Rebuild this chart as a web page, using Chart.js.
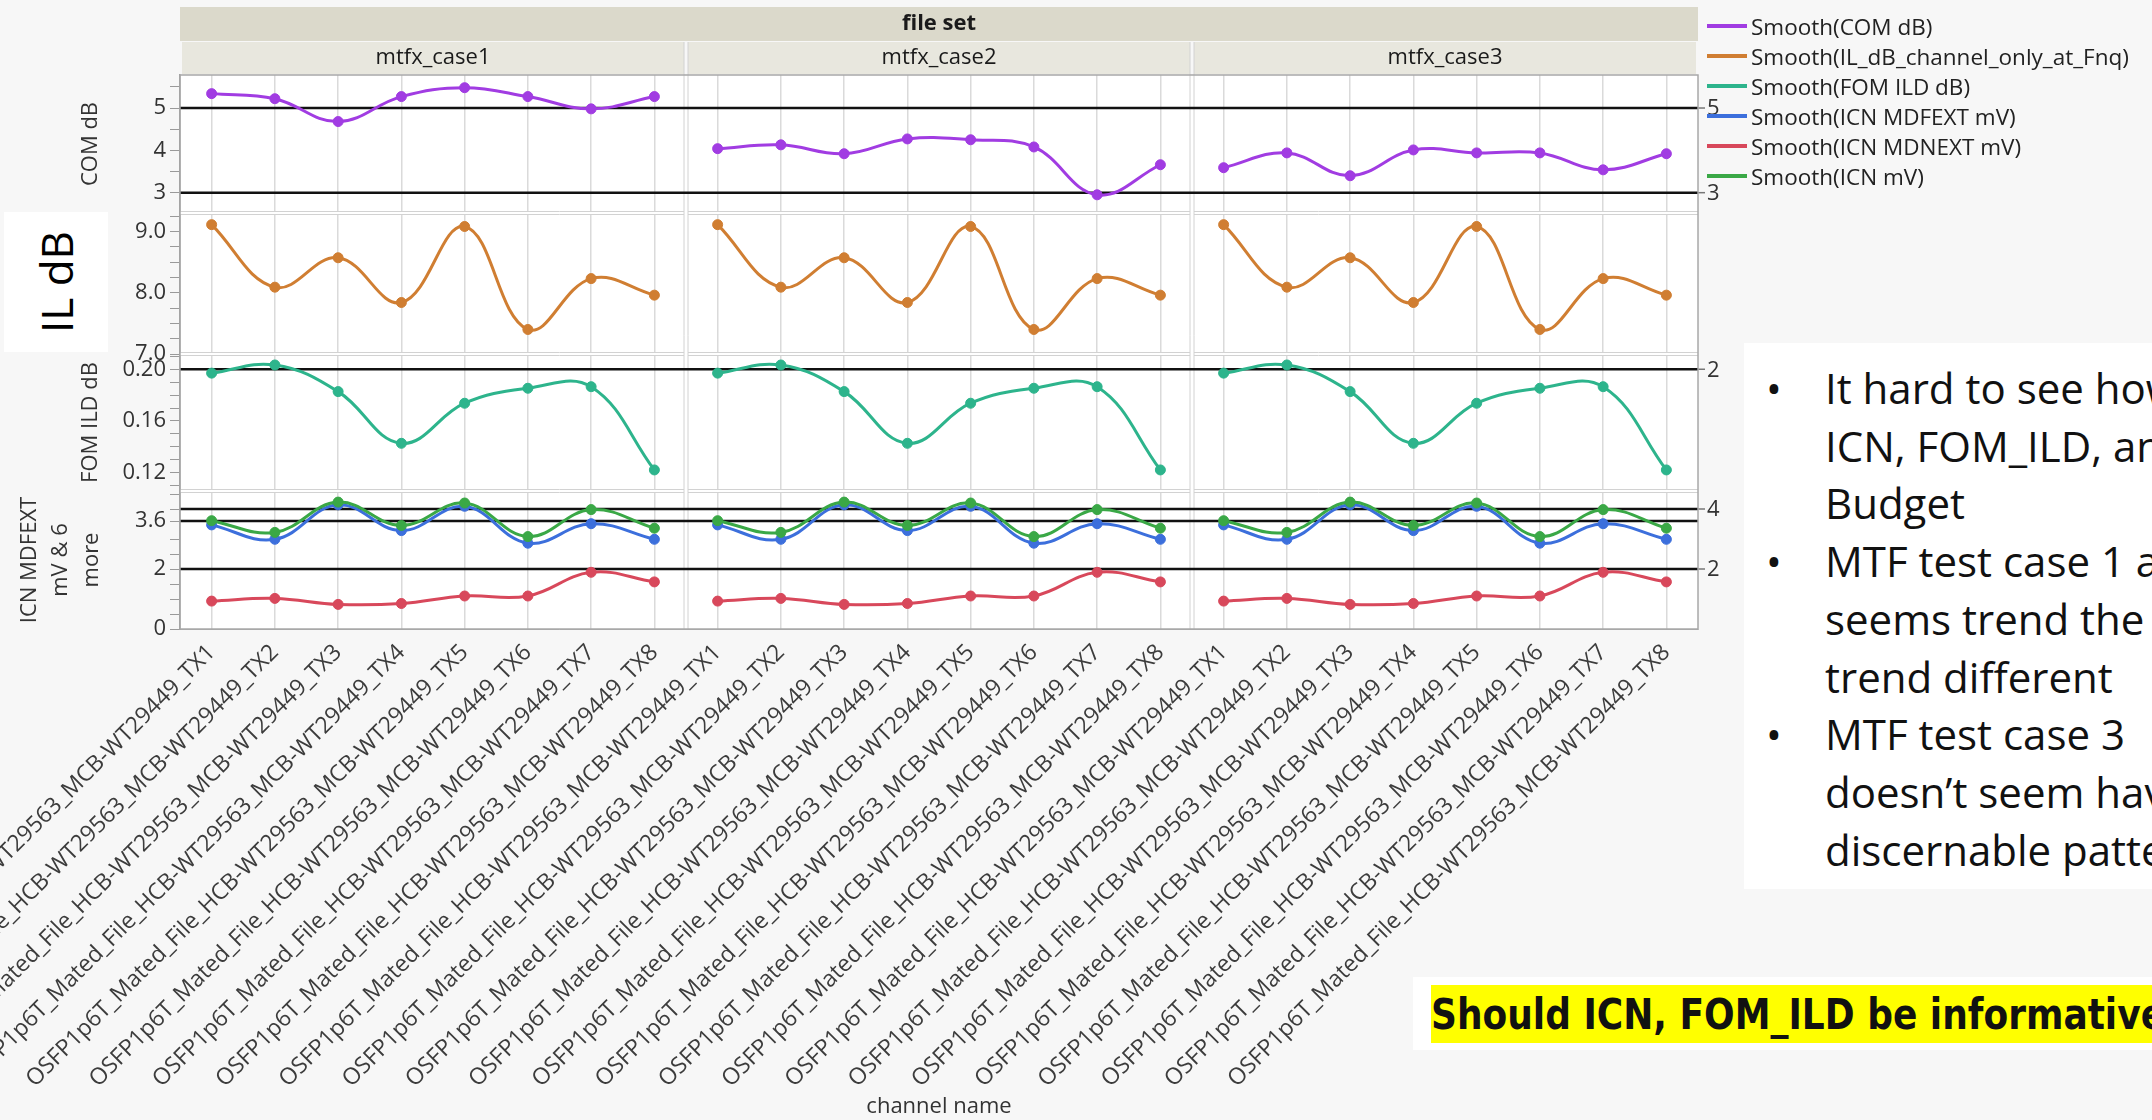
<!DOCTYPE html>
<html>
<head>
<meta charset="utf-8">
<script src="https://cdn.jsdelivr.net/npm/chart.js@4.4.1/dist/chart.umd.min.js"></script>
<style>
  html, body { margin: 0; padding: 0; }
  body {
    width: 2152px; height: 1120px; overflow: hidden; position: relative;
    background: #f7f7f7; font-family: "Open Sans", "Noto Sans", sans-serif;
  }
  #wrap { position: absolute; left: 0; top: 0; width: 1740px; height: 1120px; }
  #legend { position: absolute; left: 1707px; top: 11px; }
  .leg-row { height: 30px; display: flex; align-items: center; font-size: 22.5px; color: #222; white-space: nowrap; }
  .leg-swatch { width: 40px; height: 4px; margin-right: 4px; }
  #ilbox { position: absolute; left: 4px; top: 212px; width: 104px; height: 140px; background: #fff; }
  #ilbox span {
    position: absolute; left: 50%; top: 50%; white-space: nowrap;
    transform: translate(-50%, -50%) rotate(-90deg); font-size: 44px; color: #000;
  }
  #notes {
    position: absolute; left: 1744px; top: 343px; width: 408px; height: 546px;
    background: #fff; overflow: hidden; padding-top: 16px; box-sizing: border-box;
    font-size: 42px; line-height: 57.7px; color: #111;
  }
  #notes div { position: relative; padding-left: 81px; white-space: nowrap; }
  #notes div.b::before { content: "\2022"; position: absolute; left: 22px; }
  #ask {
    position: absolute; left: 1413px; top: 977px; width: 739px; height: 73px;
    background: #fff; overflow: hidden; white-space: nowrap;
  }
  #ask span {
    position: absolute; left: 18px; top: 8px; height: 58px; line-height: 58px;
    background: #ffff00; color: #111; font-weight: bold; font-size: 43px;
    font-family: "Liberation Sans Narrow", "DejaVu Sans Condensed", sans-serif;
    transform: scaleX(0.93); transform-origin: left center;
  }
</style>
</head>
<body>
<div id="wrap"><canvas id="chart" width="1740" height="1120"></canvas></div>
<div id="legend"></div>
<div id="ilbox"><span>IL dB</span></div>
<div id="notes">
  <div class="b">It hard to see how</div>
  <div>ICN, FOM_ILD, and</div>
  <div>Budget</div>
  <div class="b">MTF test case 1 and 2</div>
  <div>seems trend the same</div>
  <div>trend different</div>
  <div class="b">MTF test case 3</div>
  <div>doesn’t seem have</div>
  <div>discernable pattern</div>
</div>
<div id="ask"><span>Should ICN, FOM_ILD be informative</span></div>
<script>
const groupTitle = 'file set';
const cases = ['mtfx_case1', 'mtfx_case2', 'mtfx_case3'];
const channels = [
    'OSFP1p6T_Mated_File_HCB-WT29563_MCB-WT29449_TX1',
    'OSFP1p6T_Mated_File_HCB-WT29563_MCB-WT29449_TX2',
    'OSFP1p6T_Mated_File_HCB-WT29563_MCB-WT29449_TX3',
    'OSFP1p6T_Mated_File_HCB-WT29563_MCB-WT29449_TX4',
    'OSFP1p6T_Mated_File_HCB-WT29563_MCB-WT29449_TX5',
    'OSFP1p6T_Mated_File_HCB-WT29563_MCB-WT29449_TX6',
    'OSFP1p6T_Mated_File_HCB-WT29563_MCB-WT29449_TX7',
    'OSFP1p6T_Mated_File_HCB-WT29563_MCB-WT29449_TX8'
];

// one row per case, one value per channel
const comDb = [
    [5.34, 5.22, 4.68, 5.27, 5.48, 5.27, 4.98, 5.27],
    [4.04, 4.13, 3.92, 4.27, 4.25, 4.08, 2.95, 3.66],
    [3.59, 3.94, 3.40, 4.01, 3.94, 3.94, 3.54, 3.92]
];
// these look the same in every case panel
const ilDbRow = [9.11, 8.09, 8.57, 7.84, 9.08, 7.40, 8.23, 7.96];
const fomIldRow = [0.197, 0.2033, 0.1827, 0.1427, 0.1737, 0.1853, 0.1865, 0.1221];
const icnMdfextRow = [3.47, 2.99, 4.14, 3.28, 4.09, 2.86, 3.51, 2.99];
const icnMdnextRow = [0.93, 1.02, 0.82, 0.85, 1.10, 1.10, 1.89, 1.57];
const icnMvRow = [3.61, 3.22, 4.23, 3.45, 4.20, 3.08, 3.98, 3.36];
const ilDb = [ilDbRow, ilDbRow, ilDbRow];
const fomIld = [fomIldRow, fomIldRow, fomIldRow];
const icnMdfext = [icnMdfextRow, icnMdfextRow, icnMdfextRow];
const icnMdnext = [icnMdnextRow, icnMdnextRow, icnMdnextRow];
const icnMv = [icnMvRow, icnMvRow, icnMvRow];

const seriesNames = ['Smooth(COM dB)', 'Smooth(IL_dB_channel_only_at_Fnq)', 'Smooth(FOM ILD dB)',
    'Smooth(ICN MDFEXT mV)', 'Smooth(ICN MDNEXT mV)', 'Smooth(ICN mV)'];
const seriesValues = [comDb, ilDb, fomIld, icnMdfext, icnMdnext, icnMv];
const seriesAxis = ['yCom', 'yIl', 'yFom', 'yIcn', 'yIcn', 'yIcn'];
const seriesColors = ['#a13ce2', '#d07e32', '#2db48c', '#3c6fdc', '#d8485b', '#3aa846'];
const seriesOrder = [0, 0, 0, 2, 1, 0];

// y axis ticks (majors get a label)
const comTicks = [3, 3.5, 4, 4.5, 5, 5.5];
const comMajor = [3, 4, 5];
const ilTicks = [7, 7.25, 7.5, 7.75, 8, 8.25, 8.5, 8.75, 9, 9.25];
const ilMajor = [7, 8, 9];
const fomTicks = [0.11, 0.12, 0.13, 0.14, 0.15, 0.16, 0.17, 0.18, 0.19, 0.20, 0.21];
const fomMajor = [0.12, 0.16, 0.20];
const icnTicks = [0, 0.5, 1, 1.5, 2, 2.5, 3, 3.6, 4, 4.5];
const icnMajor = [0, 2, 3.6];

// reference lines and their right-hand labels
const comRefs = [5, 3];
const comRefLabels = ['5', '3'];
const fomRefs = [0.20];
const fomRefLabels = ['2'];
const icnRefs = [4, 3.6, 2];
const icnRefLabels = ['4', '', '2'];

const FONT = '"Open Sans", "Noto Sans", sans-serif';
Chart.defaults.font.family = FONT;

// legend
const legendEl = document.getElementById('legend');
seriesNames.forEach((name, i) => {
    const row = document.createElement('div');
    row.className = 'leg-row';
    row.innerHTML = `<span class="leg-swatch" style="background:${seriesColors[i]}"></span>${name}`;
    legendEl.appendChild(row);
});

const labels = [];
cases.forEach(() => channels.forEach(ch => labels.push(ch)));
const per = channels.length;

const datasets = [];
seriesNames.forEach((name, s) => {
    cases.forEach((c, ci) => {
        datasets.push({
            label: name + ' ' + c,
            data: labels.map((_, i) => Math.floor(i / per) === ci ? seriesValues[s][ci][i % per] : null),
            yAxisID: seriesAxis[s],
            borderColor: seriesColors[s],
            backgroundColor: seriesColors[s],
            borderWidth: 3,
            pointRadius: 5,
            pointHoverRadius: 5,
            pointBorderWidth: 1,
            tension: 0.4,
            spanGaps: false,
            order: seriesOrder[s]
        });
    });
});

function near(a, b) { return Math.abs(a - b) < 1e-6; }

function yAxis(weight, stackWeight, min, max, tickList, majors, fmt, title, titlePad) {
    return {
        type: 'linear',
        position: 'left',
        stack: 'panels',
        stackWeight: stackWeight,
        weight: weight,
        min: min,
        max: max,
        afterBuildTicks(scale) { scale.ticks = tickList.map(v => ({ value: v })); },
        afterFit(scale) { scale.width = 180; scale.paddingTop = 0; scale.paddingBottom = 0; },
        grid: { drawOnChartArea: false, drawTicks: true, tickLength: 10, color: '#9a9a9a', tickColor: '#9a9a9a' },
        border: { display: true, color: '#9a9a9a', width: 1.5 },
        ticks: {
            autoSkip: false,
            padding: 4,
            color: '#333',
            font: { size: 22 },
            callback: v => majors.some(m => near(m, v)) ? fmt(v) : ''
        },
        title: {
            display: !!title,
            text: title || '',
            color: '#333',
            font: { size: 22, lineHeight: 1.42 },
            padding: { top: titlePad, bottom: 0 }
        }
    };
}

const framePlugin = {
    id: 'frame',
    beforeDraw(chart) {
        const { ctx, chartArea: a, scales } = chart;
        const x = scales.x;
        ctx.save();
        ctx.fillStyle = '#ffffff';
        ctx.fillRect(a.left, a.top, a.right - a.left, a.bottom - a.top);
        ctx.fillStyle = '#dbd9cb';
        ctx.fillRect(a.left, 7, a.right - a.left, 34);
        ctx.fillStyle = '#1a1a1a';
        ctx.textAlign = 'center';
        ctx.textBaseline = 'middle';
        ctx.font = 'bold 22px ' + FONT;
        ctx.fillText(groupTitle, (a.left + a.right) / 2, 24);
        ctx.font = '22px ' + FONT;
        cases.forEach((c, ci) => {
            const l = ci === 0 ? a.left : x.getPixelForValue(ci * per - 0.5);
            const r = ci === cases.length - 1 ? a.right : x.getPixelForValue((ci + 1) * per - 0.5);
            ctx.fillStyle = '#e8e7de';
            ctx.fillRect(l + 2, 42, r - l - 4, a.top - 43);
            ctx.fillStyle = '#1a1a1a';
            ctx.fillText(c, (l + r) / 2, 58);
        });
        ctx.restore();
    },
    beforeDatasetsDraw(chart) {
        const { ctx, chartArea: a, scales } = chart;
        ctx.save();
        // separators between stacked panels
        ctx.lineWidth = 1;
        ['yCom', 'yIl', 'yFom'].forEach(id => {
            const py = scales[id].bottom;
            ctx.fillStyle = '#ffffff';
            ctx.fillRect(a.left, py - 1.5, a.right - a.left, 3);
            ctx.strokeStyle = '#d2d2d2';
            ctx.beginPath();
            ctx.moveTo(a.left, py - 1.5); ctx.lineTo(a.right, py - 1.5);
            ctx.moveTo(a.left, py + 1.5); ctx.lineTo(a.right, py + 1.5);
            ctx.stroke();
        });
        // separators between case panels
        for (let ci = 1; ci < cases.length; ci++) {
            const px = scales.x.getPixelForValue(ci * per - 0.5);
            ctx.fillStyle = '#ffffff';
            ctx.fillRect(px - 2, a.top, 4, a.bottom - a.top);
            ctx.strokeStyle = '#d2d2d2';
            ctx.beginPath();
            ctx.moveTo(px - 2, 42); ctx.lineTo(px - 2, a.bottom);
            ctx.moveTo(px + 2, 42); ctx.lineTo(px + 2, a.bottom);
            ctx.stroke();
        }
        // reference lines
        const refs = [['yCom', comRefs, comRefLabels], ['yFom', fomRefs, fomRefLabels], ['yIcn', icnRefs, icnRefLabels]];
        ctx.font = '22px ' + FONT;
        ctx.textAlign = 'left';
        ctx.textBaseline = 'middle';
        refs.forEach(([id, vals, labs]) => {
            vals.forEach((v, i) => {
                const py = scales[id].getPixelForValue(v);
                ctx.strokeStyle = '#111';
                ctx.lineWidth = 2.5;
                ctx.beginPath();
                ctx.moveTo(a.left, py); ctx.lineTo(a.right, py);
                ctx.stroke();
                if (labs[i]) {
                    ctx.strokeStyle = '#777';
                    ctx.lineWidth = 1.5;
                    ctx.beginPath();
                    ctx.moveTo(a.right, py); ctx.lineTo(a.right + 7, py);
                    ctx.stroke();
                    ctx.fillStyle = '#333';
                    ctx.fillText(labs[i], a.right + 9, py + 1);
                }
            });
        });
        // frame
        ctx.strokeStyle = '#a8a8a8';
        ctx.lineWidth = 1.5;
        ctx.strokeRect(a.left, a.top, a.right - a.left, a.bottom - a.top);
        ctx.restore();
    }
};

new Chart(document.getElementById('chart'), {
    type: 'line',
    data: { labels: labels, datasets: datasets },
    options: {
        responsive: false,
        animation: false,
        devicePixelRatio: 1,
        layout: { padding: { top: 75, right: 42, bottom: 0, left: 0 } },
        plugins: { legend: { display: false }, tooltip: { enabled: false } },
        scales: {
            x: {
                type: 'category',
                offset: true,
                grid: { color: '#dadada', lineWidth: 1.5, drawTicks: false, offset: false },
                border: { color: '#a8a8a8' },
                ticks: {
                    autoSkip: false, minRotation: 45, maxRotation: 45, padding: 10,
                    color: '#3c3c3c', font: { size: 23 }
                },
                title: { display: true, text: 'channel name', color: '#333', font: { size: 22 }, padding: 0 },
                afterFit(scale) { scale.height = 491; scale.paddingLeft = 0; scale.paddingRight = 0; }
            },
            yCom: yAxis(4, 138, 2.52, 5.78, comTicks, comMajor, v => String(v), 'COM dB', 75),
            yIl: yAxis(3, 141, 7.0, 9.30, ilTicks, ilMajor, v => v.toFixed(1), '', 0),
            yFom: yAxis(2, 137, 0.1058, 0.2118, fomTicks, fomMajor, v => v.toFixed(2), 'FOM ILD dB', 75),
            yIcn: yAxis(1, 138, 0, 4.6, icnTicks, icnMajor, v => String(v), ['ICN MDFEXT', 'mV & 6', 'more'], 14)
        }
    },
    plugins: [framePlugin]
});
</script>
</body>
</html>
